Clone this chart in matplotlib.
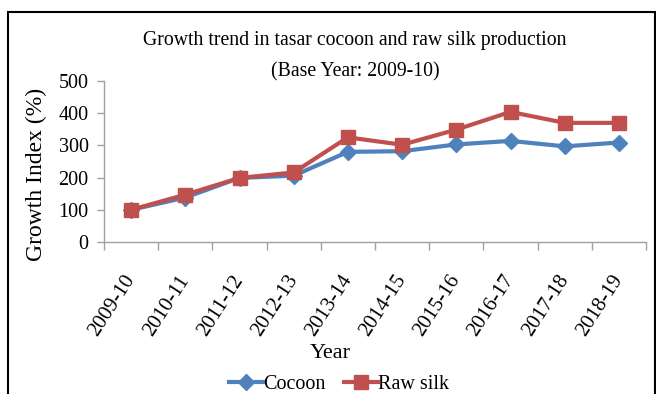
import matplotlib
matplotlib.use("Agg")
import matplotlib.pyplot as plt
from matplotlib.patches import Rectangle

years = ["2009-10", "2010-11", "2011-12", "2012-13", "2013-14",
         "2014-15", "2015-16", "2016-17", "2017-18", "2018-19"]
cocoon = [100, 138, 199, 206, 280, 282, 303, 314, 297, 309]
raw_silk = [100, 147, 199, 216, 325, 302, 349, 404, 370, 370]
yticks = [0, 100, 200, 300, 400, 500]

plt.rcParams['font.family'] = ['Liberation Serif', 'DejaVu Serif']

W, H = 656, 394
fig = plt.figure(figsize=(W/100, H/100), dpi=100)
fig.patch.set_facecolor('white')

# outer frame
fig.add_artist(Rectangle((8/W, -0.05), (655-8)/W, (H-12)/H + 0.05,
                         transform=fig.transFigure, fill=False,
                         edgecolor='black', lw=1.5))

ax = fig.add_axes([104/W, (H-242)/H, (646-104)/W, (242-81)/H])
x = list(range(len(years)))
ax.plot(x, cocoon, color='#4F81BD', lw=3, marker='D', ms=8, label='Cocoon')
ax.plot(x, raw_silk, color='#C0504D', lw=3, marker='s', ms=10, label='Raw silk')

ax.set_xlim(-0.5, len(years)-0.5)
ax.set_ylim(0, 500)
ax.set_yticks(yticks)
ax.set_yticklabels([str(v) for v in yticks], fontsize=14.5)
ax.set_xticks(x)
ax.set_xticklabels(years, rotation=57, ha='right', va='center',
                   rotation_mode='anchor', fontsize=15)
ax.set_xticks([i - 0.5 for i in range(len(years)+1)], minor=True)
ax.tick_params(axis='x', which='major', length=0, pad=25)
ax.tick_params(axis='x', which='minor', length=6, color='#A0A0A0', width=1)
ax.tick_params(axis='y', length=5, color='#A0A0A0', width=1, pad=6)
for s in ['top', 'right']:
    ax.spines[s].set_visible(False)
for s in ['left', 'bottom']:
    ax.spines[s].set_color('#A0A0A0')
    ax.spines[s].set_linewidth(1)

fig.text(36/W, 1 - 174/H, 'Growth Index (%)', rotation=90, ha='center', va='center',
         fontsize=17)
fig.text(330/W, 1 - 353/H, 'Year', ha='center', va='center', fontsize=16)

fig.text(355/W, 1 - 41/H, 'Growth trend in tasar cocoon and raw silk production',
         ha='center', va='center', fontsize=14.2)
fig.text(355/W, 1 - 72/H, '(Base Year: 2009-10)', ha='center', va='center', fontsize=14.2)

fig.legend(loc='center', bbox_to_anchor=(339/W, 1 - 384/H), ncol=2, frameon=False,
           fontsize=14.5, handlelength=1.7, columnspacing=0.9, handletextpad=0.0)

fig.savefig('out.png', dpi=100)
